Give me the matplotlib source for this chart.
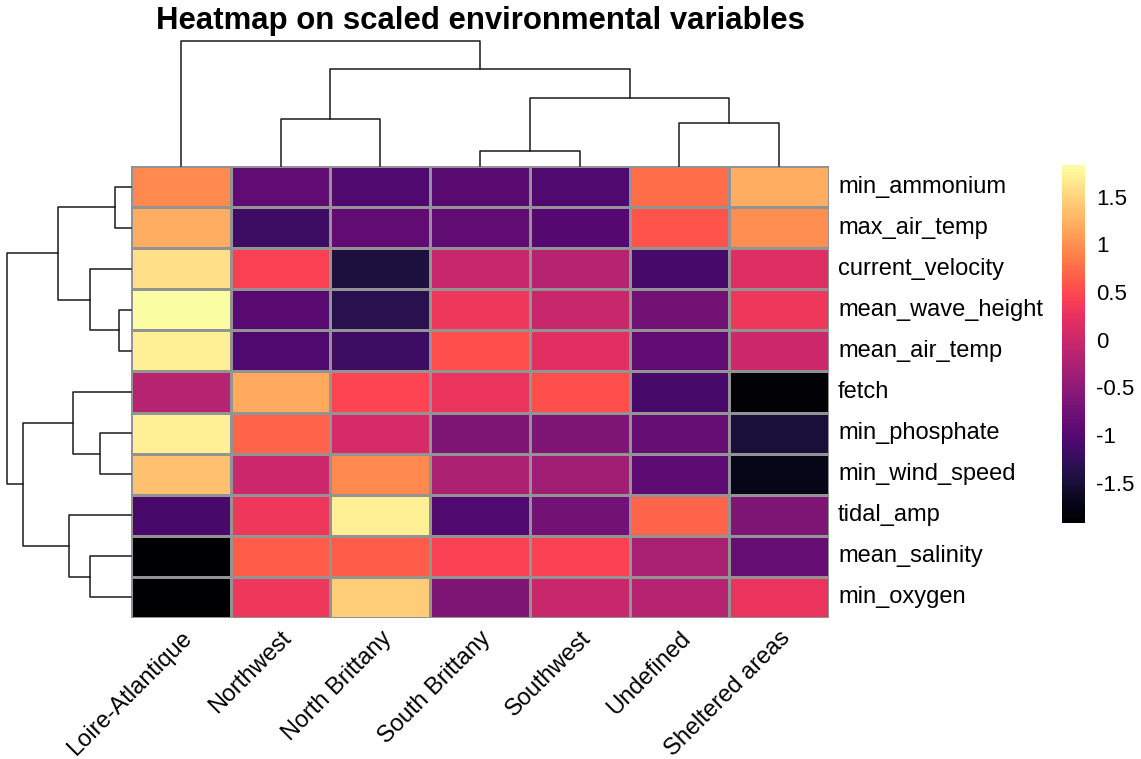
import numpy as np
import matplotlib
matplotlib.use('Agg')
import matplotlib.pyplot as plt
from matplotlib.colors import ListedColormap

plt.rcParams['font.family'] = ['Liberation Sans', 'DejaVu Sans']

regions = ['Loire-Atlantique', 'Northwest', 'North Brittany', 'South Brittany',
           'Southwest', 'Undefined', 'Sheltered areas']
variables = ['min_ammonium', 'max_air_temp', 'current_velocity', 'mean_wave_height',
             'mean_air_temp', 'fetch', 'min_phosphate', 'min_wind_speed',
             'tidal_amp', 'mean_salinity', 'min_oxygen']

# scaled values, rows = variables, columns = regions (already in clustered order)
min_ammonium = [0.94, -0.90, -1.05, -0.98, -1.05, 0.75, 1.20]
max_air_temp = [1.20, -1.18, -0.87, -0.90, -1.00, 0.56, 0.98]
current_velocity = [1.58, 0.41, -1.45, -0.04, -0.19, -1.12, 0.15]
mean_wave_height = [1.83, -0.95, -1.35, 0.30, -0.04, -0.75, 0.30]
mean_air_temp = [1.70, -1.05, -1.18, 0.52, 0.19, -0.90, 0.00]
fetch = [-0.19, 1.16, 0.45, 0.26, 0.52, -1.12, -1.88]
min_phosphate = [1.70, 0.67, 0.07, -0.64, -0.62, -0.85, -1.50]
min_wind_speed = [1.35, 0.00, 0.94, -0.27, -0.38, -0.92, -1.70]
tidal_amp = [-1.12, 0.30, 1.70, -1.02, -0.75, 0.67, -0.64]
mean_salinity = [-1.92, 0.65, 0.65, 0.41, 0.41, -0.30, -0.85]
min_oxygen = [-1.92, 0.30, 1.43, -0.64, -0.04, -0.19, 0.26]

# linkage merges: (left, right, height); ids >= n refer to earlier merges
col_merges = [(3, 4, 0.60), (5, 6, 1.73), (1, 2, 1.87),
              (7, 8, 2.73), (9, 10, 3.87), (0, 11, 5.01)]
row_merges = [(3, 4, 0.47), (0, 1, 0.64), (6, 7, 1.24), (9, 10, 1.64),
              (2, 11, 1.64), (5, 13, 2.31), (8, 14, 2.47), (12, 15, 2.93),
              (16, 17, 4.33), (18, 19, 4.97)]

data = np.array([min_ammonium, max_air_temp, current_velocity, mean_wave_height,
                 mean_air_temp, fetch, min_phosphate, min_wind_speed,
                 tidal_amp, mean_salinity, min_oxygen])
vmin, vmax = data.min(), data.max()

def saturate(rgb):
    # deeper, warmer magma: widen gamut a bit and pull blue down
    lin = np.where(rgb <= 0.04045, rgb / 12.92, ((rgb + 0.055) / 1.055) ** 2.4)
    m = np.array([[1.2249, -0.2247, 0.0],
                  [-0.0420, 1.0419, 0.0],
                  [-0.0197, -0.0786, 1.0983]])
    lin = np.clip(lin @ m.T, 0, 1)
    out = np.where(lin <= 0.0031308, lin * 12.92, 1.055 * lin ** (1 / 2.4) - 0.055)
    out[:, 2] *= 0.88
    return np.clip(out, 0, 1)

n_colors = 100
cmap = ListedColormap(saturate(plt.get_cmap('magma')(np.linspace(0, 1, n_colors))[:, :3]))

W, H = 1141, 759
fig = plt.figure(figsize=(W / 100, H / 100), dpi=100)

def box(x0, y0, x1, y1):
    # pixel box -> figure fraction rect
    return [x0 / W, 1 - y1 / H, (x1 - x0) / W, (y1 - y0) / H]

def draw_dendro(ax, merges, n, top):
    pos = {i: i + 0.5 for i in range(n)}
    hgt = {i: 0.0 for i in range(n)}
    for k, (a, b, h) in enumerate(merges):
        xa, xb = pos[a], pos[b]
        xs = [xa, xa, xb, xb]
        ys = [hgt[a], h, h, hgt[b]]
        if top:
            ax.plot(xs, ys, color='#1a1a1a', lw=1.1, clip_on=False)
        else:
            ax.plot(ys, xs, color='#1a1a1a', lw=1.1, clip_on=False)
        pos[n + k] = (xa + xb) / 2
        hgt[n + k] = h

hx0, hy0, hx1, hy1 = 131, 166, 829, 618
ax = fig.add_axes(box(hx0, hy0, hx1, hy1))
ax.pcolormesh(np.arange(len(regions) + 1), np.arange(len(variables) + 1), data,
              cmap=cmap, vmin=vmin, vmax=vmax, edgecolors='#939393', linewidth=1.0)
ax.set_xlim(0, len(regions))
ax.set_ylim(len(variables), 0)
ax.axis('off')

for i, name in enumerate(variables):
    ax.text(len(regions) + 0.09, i + 0.5, name, ha='left', va='center', fontsize=17)
for j, name in enumerate(regions):
    ax.text(j + 0.5, len(variables) + 0.22, name, ha='right', va='top', fontsize=17,
            rotation=45, rotation_mode='anchor')

# column dendrogram
axc = fig.add_axes(box(hx0, 40.7, hx1, hy0))
draw_dendro(axc, col_merges, len(regions), True)
axc.set_xlim(0, len(regions))
axc.set_ylim(0, max(m[2] for m in col_merges))
axc.axis('off')

# row dendrogram
axr = fig.add_axes(box(6.7, hy0, hx0, hy1))
draw_dendro(axr, row_merges, len(variables), False)
axr.set_ylim(len(variables), 0)
axr.set_xlim(max(m[2] for m in row_merges), 0)
axr.axis('off')

# colour legend
axl = fig.add_axes(box(1062, 165, 1085, 523))
levels = np.linspace(vmin, vmax, n_colors + 1)
axl.pcolormesh([0, 1], levels, ((levels[:-1] + levels[1:]) / 2).reshape(-1, 1),
               cmap=cmap, vmin=vmin, vmax=vmax)
axl.set_xlim(0, 1)
axl.set_ylim(vmin, vmax)
axl.set_xticks([])
axl.yaxis.tick_right()
axl.set_yticks([-1.5, -1, -0.5, 0, 0.5, 1, 1.5])
axl.set_yticklabels(['-1.5', '-1', '-0.5', '0', '0.5', '1', '1.5'], fontsize=16)
axl.tick_params(axis='y', length=0, pad=8)
for s in axl.spines.values():
    s.set_visible(False)

fig.text(480.5 / W, 1 - 29 / H, 'Heatmap on scaled environmental variables',
         ha='center', va='baseline', fontsize=22.4, fontweight='bold')

fig.savefig('out.png', dpi=100)
